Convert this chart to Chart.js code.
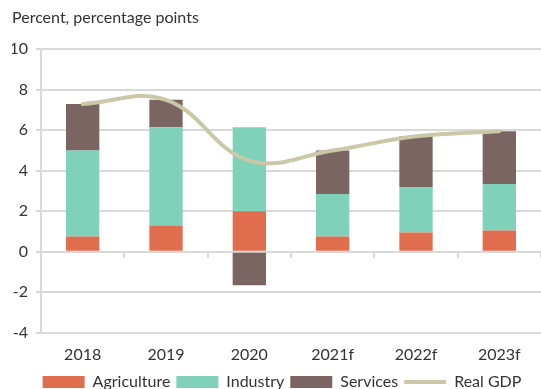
<!DOCTYPE html>
<html>
<head>
<meta charset="utf-8">
<script src="https://cdn.jsdelivr.net/npm/chart.js@4/dist/chart.umd.min.js"></script>
<style>
  html, body { margin: 0; padding: 0; background: #fff; overflow: hidden; }
  #wrap { width: 541px; height: 389px; overflow: hidden; }
</style>
</head>
<body>
<div id="wrap"><canvas id="myChart" width="541" height="400"></canvas></div>
<script>
// contributions to growth by sector, plus headline growth
const years = ["2018", "2019", "2020", "2021f", "2022f", "2023f"];
const agriculture = [0.75, 1.3, 2.0, 0.75, 0.95, 1.05];
const industry = [4.25, 4.85, 4.15, 2.1, 2.25, 2.3];
const services = [2.3, 1.35, -1.65, 2.15, 2.5, 2.6];
const realGdp = [7.3, 7.5, 4.5, 5.0, 5.7, 5.95];
const yTicks = [-4, -2, 0, 2, 4, 6, 8, 10];

const gridGray = "#d9d9d9";
const textColor = "#333333";
const fontFamily = "Lato, 'Open Sans', sans-serif";

function barSet(label, data, color) {
    return {
        type: "bar",
        label: label,
        data: data,
        backgroundColor: color,
        borderWidth: 0,
        barPercentage: 0.4,
        categoryPercentage: 1,
        pointStyle: "rect",
        order: 1,
    };
}

const ctx = document.getElementById('myChart').getContext('2d');
const myChart = new Chart(ctx, {
    data: {
        labels: years,
        datasets: [
            barSet("Agriculture", agriculture, "#e06e4e"),
            barSet("Industry", industry, "#7fd1b9"),
            barSet("Services", services, "#7a6562"),
            {
                type: "line",
                label: "Real GDP",
                data: realGdp,
                stack: "gdp",
                borderColor: "#cbc8a8",
                backgroundColor: "#cbc8a8",
                borderWidth: 4,
                borderCapStyle: "round",
                pointRadius: 0,
                pointStyle: "line",
                tension: 0.4,
                fill: false,
                order: 0,
            },
        ],
    },
    options: {
        responsive: false,
        animation: false,
        layout: { padding: { left: 12, right: -11, top: 0, bottom: 0 } },
        plugins: {
            title: {
                display: true,
                text: "Percent, percentage points",
                align: "start",
                color: textColor,
                font: { family: fontFamily, size: 16, weight: "normal" },
                padding: { top: 8, bottom: 22 },
            },
            legend: {
                position: "bottom",
                labels: {
                    usePointStyle: true,
                    pointStyleWidth: 42,
                    boxHeight: 12,
                    padding: 6,
                    color: textColor,
                    font: { family: fontFamily, size: 16 },
                    sort: (a, b) => a.datasetIndex - b.datasetIndex,
                },
            },
            tooltip: { enabled: false },
        },
        scales: {
            x: {
                stacked: true,
                grid: { display: false },
                border: { display: true, color: gridGray, width: 2 },
                ticks: {
                    color: textColor,
                    padding: 4,
                    font: { family: fontFamily, size: 16 },
                },
            },
            xZero: {
                type: "category",
                axis: "x",
                position: { y: 0 },
                offset: true,
                grid: { offset: true, drawOnChartArea: false, drawTicks: true, tickLength: 5, color: gridGray, lineWidth: 2 },
                border: { display: true, color: gridGray, width: 2 },
                ticks: { display: false },
            },
            y: {
                stacked: true,
                min: -4,
                max: 10,
                afterBuildTicks: (axis) => {
                    axis.ticks = yTicks.map(v => ({ value: v }));
                },
                // keep the axis narrow so the plot starts near the left edge
                afterFit: (axis) => { axis.width = 29; },
                grid: { color: gridGray, lineWidth: 2, tickLength: 5 },
                border: { display: true, color: gridGray, width: 2 },
                ticks: {
                    color: textColor,
                    padding: 8,
                    font: { family: fontFamily, size: 16 },
                },
            },
        },
    },
});
</script>
</body>
</html>
